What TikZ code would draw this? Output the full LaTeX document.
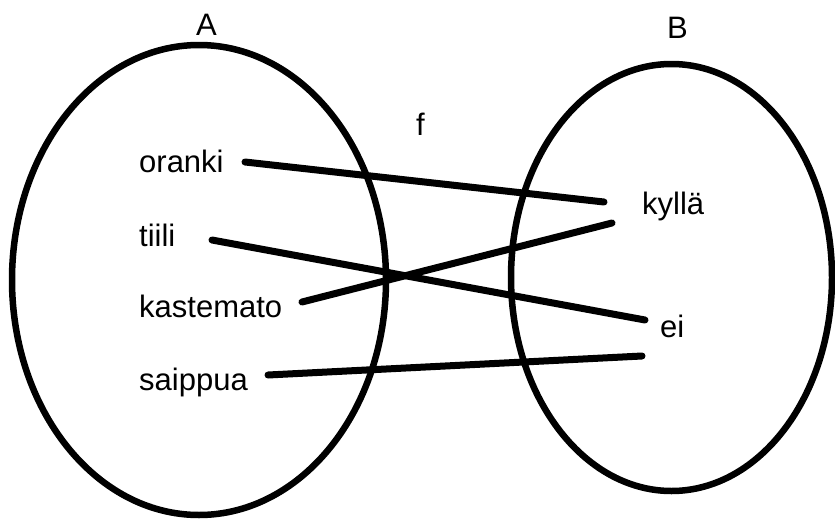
\documentclass[tikz,border=0pt]{standalone}
\usepackage{fontspec}
\setmainfont{Liberation Sans}
\begin{document}
\begin{tikzpicture}[x=1pt,y=-1pt,
  setline/.style={line width=6.5pt},
  mapline/.style={line width=7pt,line cap=round},
  word/.style={anchor=base west,inner sep=0pt,font=\fontsize{31}{34}\selectfont}]
\useasboundingbox (0,0) rectangle (835,522);
% the two sets
\draw[setline] (199,280) ellipse [x radius=187, y radius=235];
\draw[setline] (671.5,277.5) ellipse [x radius=160.5, y radius=213.5];
% labels
\node[word] (A) at (196,35) {A};
\node[word] (B) at (667,38) {B};
\node[word] (f) at (416,135) {f};
% elements of A
\node[word] (oranki) at (139,172) {oranki};
\node[word] (tiili) at (139,246) {tiili};
\node[word] (kastemato) at (139,317) {kastemato};
\node[word] (saippua) at (139,390) {saippua};
% elements of B
\node[word] (kylla) at (642,214) {kyllä};
\node[word] (ei) at (660,337) {ei};
% connector ends
\coordinate (o1) at (245,162);
\coordinate (t1) at (212,240);
\coordinate (k1) at (302,302);
\coordinate (s1) at (268,375);
\coordinate (y1) at (604,202);
\coordinate (y2) at (612,223);
\coordinate (e1) at (645,320);
\coordinate (e2) at (642,356);
\draw[mapline] (o1) -- (y1);
\draw[mapline] (t1) -- (e1);
\draw[mapline] (k1) -- (y2);
\draw[mapline] (s1) -- (e2);
\end{tikzpicture}
\end{document}
